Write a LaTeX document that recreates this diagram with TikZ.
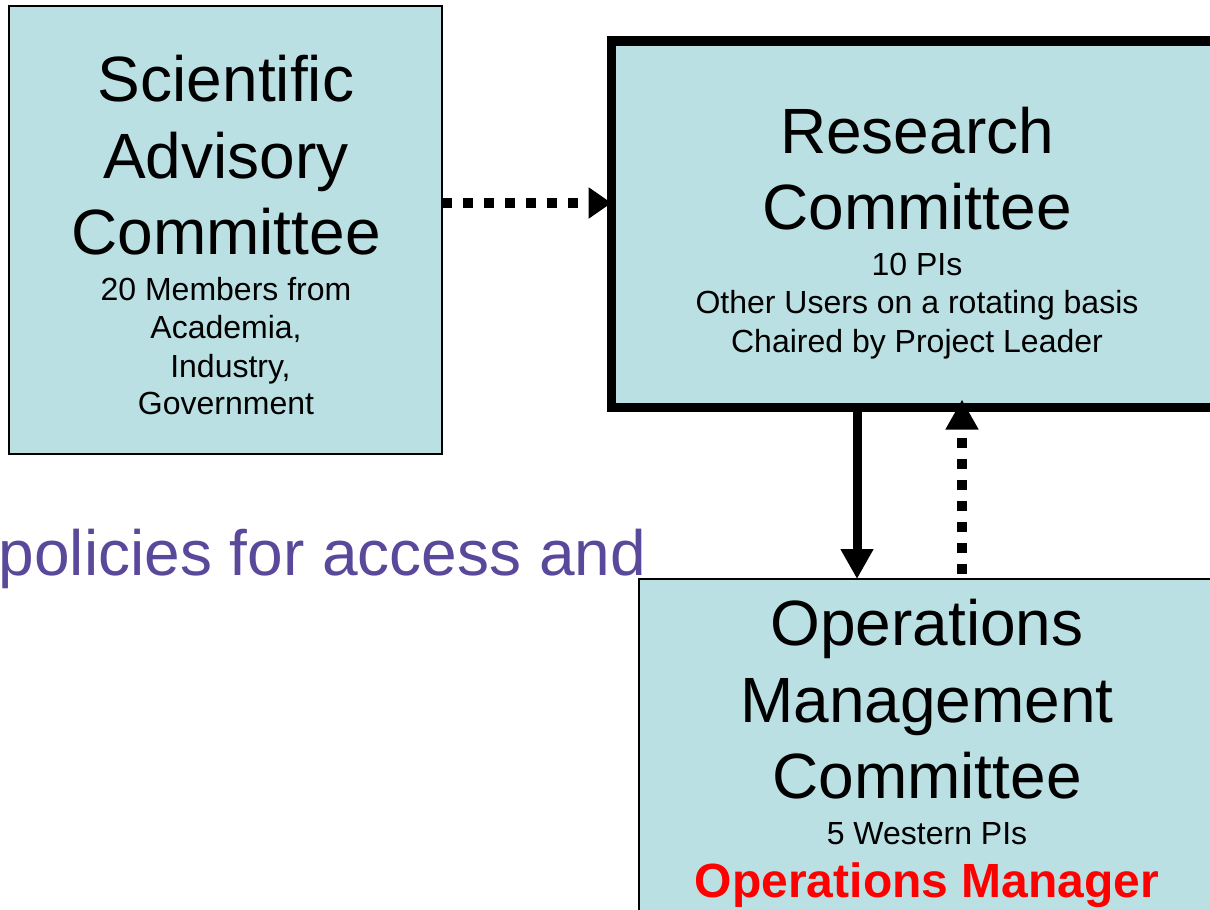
\documentclass[tikz,border=0pt]{standalone}
\usepackage{fontspec}
\setmainfont{Liberation Sans}
\usetikzlibrary{arrows.meta}
\definecolor{boxfill}{RGB}{187,224,227}
\definecolor{polpurple}{RGB}{90,72,155}
\definecolor{mgrred}{RGB}{255,0,0}
\tikzset{
  box/.style={draw=black, line width=1.3pt, fill=boxfill, inner sep=0pt, outer sep=0pt},
  bigtxt/.style={anchor=base, inner sep=0pt, font=\fontsize{64}{77}\selectfont},
  smalltxt/.style={anchor=base, inner sep=0pt, font=\fontsize{32}{38}\selectfont},
  dotline/.style={line width=10pt, dash pattern=on 10pt off 11pt},
  bigtip/.style={-{Triangle[length=30pt,width=31pt]}},
  sidetip/.style={-{Triangle[length=23pt,width=30pt]}}
}
\begin{document}
\begin{tikzpicture}[x=1pt,y=-1pt]
\useasboundingbox (0,0) rectangle (1210,910);
\clip (0,0) rectangle (1210,910);
\fill[white] (0,0) rectangle (1210,910);

% purple background text
\node[anchor=base west, inner sep=0pt, text=polpurple, font=\fontsize{64}{77}\selectfont] (pol) at (-1.5,575) {policies for access and};

% boxes
\node[box, minimum width=433pt, minimum height=448pt] (sac) at (225.5,230) {};
\node[box, line width=9.5pt, minimum width=611pt, minimum height=366.5pt] (rc) at (917,224.25) {};
\node[box, minimum width=576pt, minimum height=381pt] (omc) at (927,769.5) {};

% Scientific Advisory Committee text
\node[bigtxt] (s1) at (226,101) {Scientific};
\node[bigtxt] (s2) at (226,178) {Advisory};
\node[bigtxt] (s3) at (226,254) {Committee};
\node[smalltxt] (s4) at (226,300) {20 Members from};
\node[smalltxt] (s5) at (226,338) {Academia,};
\node[smalltxt] (s6) at (226,377) {\ Industry,};
\node[smalltxt] (s7) at (226,414) {Government};

% Research Committee text
\node[bigtxt] (r1) at (917,153) {Research};
\node[bigtxt] (r2) at (917,229) {Committee};
\node[smalltxt] (r3) at (917,275) {10 PIs};
\node[smalltxt] (r4) at (917,313) {Other Users on a rotating basis};
\node[smalltxt] (r5) at (917,352) {Chaired by Project Leader};

% Operations Management Committee text
\node[bigtxt] (o1) at (927,645) {Operations};
\node[bigtxt] (o2) at (927,722) {Management};
\node[bigtxt] (o3) at (927,798) {Committee};
\node[smalltxt] (o4) at (927,844) {5 Western PIs};
\node[anchor=base, inner sep=0pt, text=mgrred, font=\bfseries\fontsize{48}{56}\selectfont] (o5) at (927,897) {Operations Manager};

% connectors
\coordinate (ya) at (0,203);
\coordinate (xd) at (857,0);
\coordinate (xu) at (962,0);
\draw[dotline, sidetip] (sac.east |- ya) -- (rc.west |- ya);
\draw[line width=9pt, bigtip] (rc.south -| xd) -- (omc.north -| xd);
\draw[line width=10pt, dash pattern=on 10.5pt off 10.5pt, bigtip, shorten <=5pt, shorten >=-8pt] (omc.north -| xu) -- (rc.south -| xu);
\end{tikzpicture}
\end{document}
